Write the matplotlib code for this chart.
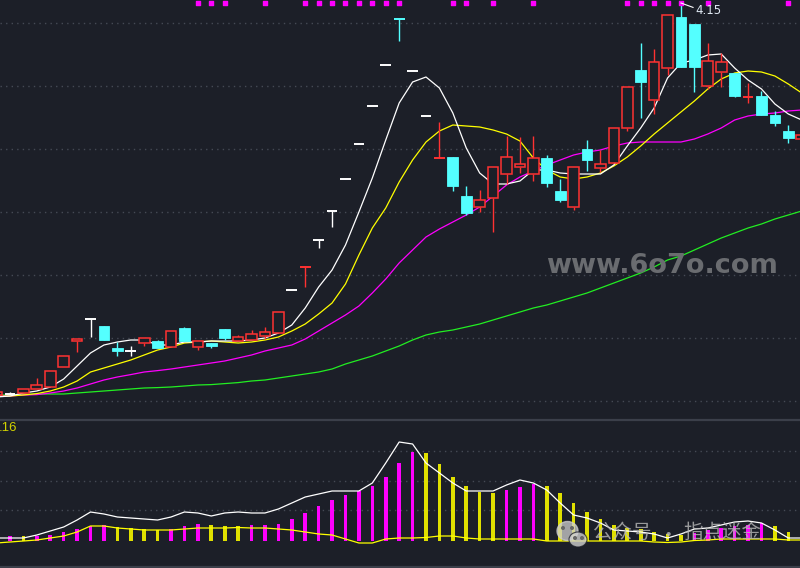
import numpy as np
import matplotlib
matplotlib.use('Agg')
import matplotlib.pyplot as plt
from matplotlib.patches import Rectangle, Ellipse

# daily candles, first one (day -1) is cut by the left edge
opens = [2.190, 2.197, 2.200, 2.220, 2.230, 2.330, 2.460, 2.570, 2.535, 2.425,
         2.410, 2.450, 2.460, 2.430, 2.525, 2.430, 2.450, 2.520, 2.460, 2.465,
         2.485, 2.500, 2.715, 2.828, 2.965, 3.110, 3.270, 3.445, 3.635, 3.840,
         4.070, 3.810, 3.585, 3.373, 3.380, 3.185, 3.130, 3.175, 3.295, 3.330,
         3.295, 3.375, 3.210, 3.130, 3.420, 3.325, 3.350, 3.525, 3.815, 3.665,
         3.825, 4.080, 4.045, 3.735, 3.805, 3.800, 3.679, 3.685, 3.590, 3.510,
         3.470]
highs = [2.205, 2.205, 2.220, 2.275, 2.310, 2.385, 2.470, 2.570, 2.535, 2.455,
         2.435, 2.475, 2.465, 2.510, 2.530, 2.460, 2.450, 2.520, 2.490, 2.515,
         2.530, 2.605, 2.715, 2.830, 2.965, 3.110, 3.270, 3.445, 3.635, 3.840,
         4.070, 3.810, 3.585, 3.555, 3.380, 3.235, 3.215, 3.330, 3.485, 3.480,
         3.485, 3.390, 3.270, 3.330, 3.465, 3.415, 3.525, 3.730, 3.950, 3.920,
         4.090, 4.150, 4.045, 3.950, 3.900, 3.800, 3.750, 3.710, 3.610, 3.540,
         3.490]
lows = [2.190, 2.195, 2.200, 2.220, 2.230, 2.330, 2.405, 2.480, 2.465, 2.385,
        2.385, 2.435, 2.425, 2.430, 2.460, 2.415, 2.425, 2.465, 2.460, 2.465,
        2.470, 2.500, 2.715, 2.730, 2.925, 3.030, 3.270, 3.445, 3.635, 3.840,
        3.960, 3.810, 3.585, 3.373, 3.210, 3.090, 3.105, 3.005, 3.245, 3.300,
        3.260, 3.230, 3.155, 3.115, 3.310, 3.305, 3.350, 3.510, 3.575, 3.595,
        3.790, 3.830, 3.705, 3.720, 3.730, 3.680, 3.650, 3.590, 3.535, 3.450,
        3.470]
closes = [2.205, 2.197, 2.220, 2.240, 2.310, 2.385, 2.470, 2.570, 2.465, 2.410,
          2.410, 2.475, 2.425, 2.510, 2.460, 2.460, 2.435, 2.475, 2.480, 2.495,
          2.505, 2.605, 2.715, 2.830, 2.965, 3.110, 3.270, 3.445, 3.635, 3.840,
          4.068, 3.810, 3.585, 3.375, 3.235, 3.100, 3.165, 3.330, 3.380, 3.345,
          3.375, 3.250, 3.165, 3.330, 3.365, 3.345, 3.525, 3.730, 3.755, 3.855,
          4.090, 3.830, 3.830, 3.860, 3.855, 3.685, 3.681, 3.590, 3.550, 3.475,
          3.490]

ma5 = [2.180, 2.185, 2.200, 2.210, 2.230, 2.270, 2.335, 2.400, 2.440, 2.455,
       2.465, 2.465, 2.440, 2.440, 2.455, 2.455, 2.460, 2.460, 2.460, 2.465,
       2.475, 2.500, 2.540, 2.625, 2.730, 2.815, 2.940, 3.105, 3.275, 3.465,
       3.650, 3.755, 3.780, 3.725, 3.600, 3.425, 3.300, 3.245, 3.245, 3.260,
       3.315, 3.315, 3.300, 3.295, 3.295, 3.295, 3.340, 3.435, 3.525, 3.625,
       3.775, 3.850, 3.865, 3.890, 3.895, 3.825, 3.765, 3.720, 3.645, 3.595,
       3.565]
ma10 = [2.183, 2.185, 2.190, 2.197, 2.210, 2.230, 2.260, 2.305, 2.325, 2.345,
        2.365, 2.390, 2.415, 2.430, 2.450, 2.455, 2.460, 2.455, 2.450, 2.455,
        2.465, 2.480, 2.510, 2.545, 2.595, 2.650, 2.745, 2.890, 3.025, 3.125,
        3.255, 3.365, 3.455, 3.510, 3.540, 3.535, 3.530, 3.515, 3.495, 3.460,
        3.375, 3.315, 3.280, 3.270, 3.280, 3.300, 3.335, 3.380, 3.435, 3.495,
        3.550, 3.605, 3.660, 3.720, 3.770, 3.800, 3.810, 3.805, 3.785, 3.745,
        3.700]
ma20 = [2.185, 2.185, 2.190, 2.192, 2.200, 2.210, 2.225, 2.245, 2.265, 2.280,
        2.292, 2.305, 2.312, 2.320, 2.330, 2.340, 2.350, 2.360, 2.375, 2.390,
        2.410, 2.425, 2.440, 2.470, 2.510, 2.550, 2.590, 2.635, 2.700, 2.770,
        2.850, 2.915, 2.980, 3.020, 3.055, 3.090, 3.130, 3.185, 3.240, 3.280,
        3.310, 3.340, 3.365, 3.390, 3.405, 3.415, 3.435, 3.450, 3.455, 3.455,
        3.455, 3.455, 3.470, 3.495, 3.525, 3.565, 3.585, 3.595, 3.600, 3.610,
        3.615]
ma60 = [2.190, 2.190, 2.192, 2.195, 2.195, 2.195, 2.200, 2.205, 2.210, 2.215,
        2.220, 2.225, 2.227, 2.230, 2.235, 2.240, 2.242, 2.247, 2.252, 2.260,
        2.265, 2.275, 2.285, 2.295, 2.305, 2.320, 2.345, 2.365, 2.385, 2.410,
        2.435, 2.465, 2.490, 2.505, 2.515, 2.530, 2.545, 2.565, 2.585, 2.605,
        2.625, 2.640, 2.660, 2.680, 2.700, 2.725, 2.750, 2.775, 2.800, 2.830,
        2.865, 2.885, 2.915, 2.945, 2.975, 3.000, 3.025, 3.045, 3.070, 3.090,
        3.110]

signal_days = [14, 15, 16, 19, 22, 23, 24, 25, 26, 27, 28, 29, 33, 34, 36, 39,
               46, 47, 48, 49, 50, 52, 58]

# lower indicator panel
ind_bars = [0, 5, 4.8, 5.2, 6, 9, 12, 15, 16, 14, 13,
            12, 11, 12, 15, 17, 16, 15, 14.8, 16, 16.3,
            17, 22, 28, 35, 41, 46, 50, 55, 64, 78,
            89, 88, 77, 64, 55, 49, 48, 51, 54, 57,
            55, 48, 38, 29, 22, 16, 13, 12, 9, 7,
            6, 8, 11, 13, 15, 16, 18, 15, 9, 5]
ind_fast = [3, 3, 3, 6, 10, 14, 21, 29, 27, 24, 23,
            22, 21, 24, 29, 28, 25, 28, 29, 28, 28,
            32, 38, 44, 47, 50, 50, 50, 58, 78, 99,
            97, 78, 68, 58, 50, 50, 50, 56, 61, 58,
            51, 38, 26, 23, 18, 11, 10, 9, 7, 3,
            7, 12, 13, 16, 19, 20, 18, 11, 3, 3]
ind_slow = [-2, -1, 0, 1, 3, 5, 9, 15, 15, 13, 12,
            11, 11, 11, 12, 13, 13, 13, 13.5, 13, 13,
            12, 11, 9, 7, 6, 2, -2, -2, 2, 3,
            3, 3.5, 5, 5, 3, 2, 2, 2, 2, 2,
            0, 0, 0, 0, 0, 0, 0, 0, -1, -1.5,
            -1, 0.5, 1, 2, 2, 2, 2, 2, 1, 1]

price_grid = [2.16, 2.475, 2.79, 3.105, 3.42, 3.735, 4.05]
ind_grid = [31, 60, 90]

bg = '#1c1f28'
red = '#ff3232'
cyan = '#54ffff'
grid_col = '#454a55'

days = np.arange(len(closes)) - 1

fig = plt.figure(figsize=(8, 5.68), dpi=100, facecolor=bg)
ax = fig.add_axes([0, 148 / 568, 1, 420 / 568])
ax2 = fig.add_axes([0, 2 / 568, 1, 145 / 568])
for a in (ax, ax2):
    a.set_facecolor(bg)
    a.set_xticks([])
    a.set_yticks([])
    for s in a.spines.values():
        s.set_visible(False)
    a.set_xlim(-0.745, 58.87)
ax.set_ylim(2.065, 4.165)
ax2.set_ylim(-25, 120)

for g in price_grid:
    ax.axhline(g, color=grid_col, lw=1, ls=(0, (1, 3)), zorder=0)
for g in ind_grid:
    ax2.axhline(g, color=grid_col, lw=1, ls=(0, (1, 3)), zorder=0)

# moving averages
ax.plot(days, ma60, color='#22ee22', lw=0.9, zorder=2)
ax.plot(days, ma20, color='#ff00ff', lw=0.9, zorder=2)
ax.plot(days, ma10, color='#ffff00', lw=0.9, zorder=2)
ax.plot(days, ma5, color='white', lw=0.9, zorder=2)

# candles
for d, o, h, l, c in zip(days, opens, highs, lows, closes):
    if abs(c - o) < 0.003:
        col = red if c > o else (cyan if c < o else 'white')
        ax.vlines(d, l, h, color=col, lw=1, zorder=3)
        ax.hlines(o, d - 0.4, d + 0.4, color=col, lw=1.4, zorder=3)
    elif c > o:
        ax.vlines(d, c, h, color=red, lw=1, zorder=3)
        ax.vlines(d, l, o, color=red, lw=1, zorder=3)
        ax.add_patch(Rectangle((d - 0.4, o), 0.8, c - o, facecolor=bg,
                               edgecolor=red, lw=1.1, zorder=3))
    else:
        ax.vlines(d, l, h, color=cyan, lw=1, zorder=3)
        ax.add_patch(Rectangle((d - 0.4, c), 0.8, o - c, facecolor=cyan,
                               edgecolor=cyan, lw=0.6, zorder=3))

ax.scatter(signal_days, [0.994] * len(signal_days), marker='s', s=7,
           color='#ff00ff', transform=ax.get_xaxis_transform(), clip_on=False,
           zorder=4)

# highest price marker
top = int(np.argmax(highs))
ax.plot([days[top], days[top] + 0.9], [highs[top], highs[top] - 0.022],
        color='white', lw=0.8, zorder=4)
ax.text(days[top] + 1.05, highs[top] - 0.04, '%.2f' % highs[top],
        color='#dfe8f2', fontsize=8.5, va='center', ha='left', zorder=4)

# lower panel
bar_cols = ['#ff00ff' if i == 0 or v >= ind_bars[i - 1] else '#e0e000'
            for i, v in enumerate(ind_bars)]
ax2.bar(days, ind_bars, width=0.27, color=bar_cols, zorder=2)
ax2.plot(days, ind_fast, color='white', lw=0.9, zorder=3)
ax2.plot(days, ind_slow, color='#ffff00', lw=0.9, zorder=3)

# overlay in pixel coordinates for frame lines and watermarks
wm = fig.add_axes([0, 0, 1, 1])
wm.set_xlim(0, 800)
wm.set_ylim(568, 0)
wm.axis('off')
wm.plot([0, 800], [420, 420], color='#3b3f4a', lw=1.6)
wm.plot([0, 800], [566.5, 566.5], color='#3b3f4a', lw=1.6)
wm.text(-1, 428, '.16', color='#d2d200', fontsize=9.5, va='center',
        ha='left', family='Liberation Sans')
wm.text(661.5, 273, 'www.6o7o.com', color='#6a6c70', fontsize=19.5,
        fontweight='bold', ha='center', va='baseline', family='DejaVu Sans')
wm.add_patch(Ellipse((567.5, 531), 21, 19, color='#d0d0d0', alpha=0.75))
wm.add_patch(Ellipse((578, 539.5), 18, 15, color='#d0d0d0', alpha=0.8,
                     ec=bg, lw=0.8))
for ex, ey in [(563, 528), (572, 528), (575, 538), (582, 538)]:
    wm.add_patch(Ellipse((ex, ey), 2.6, 2.6, color='#666666'))
cjk = ['Noto Sans CJK SC', 'DejaVu Sans']
wm.text(593, 532, '公众号', color='#b8b8b8', alpha=0.8, fontsize=14,
        va='center', ha='left', family=cjk)
wm.text(668, 536, '·', color='#b8b8b8', alpha=0.8, fontsize=14,
        va='center', ha='center', family=cjk)
wm.text(683, 532, '指点迷金', color='#b8b8b8', alpha=0.8, fontsize=14,
        va='center', ha='left', family=cjk)

fig.savefig('out.png', dpi=100, facecolor=bg)
